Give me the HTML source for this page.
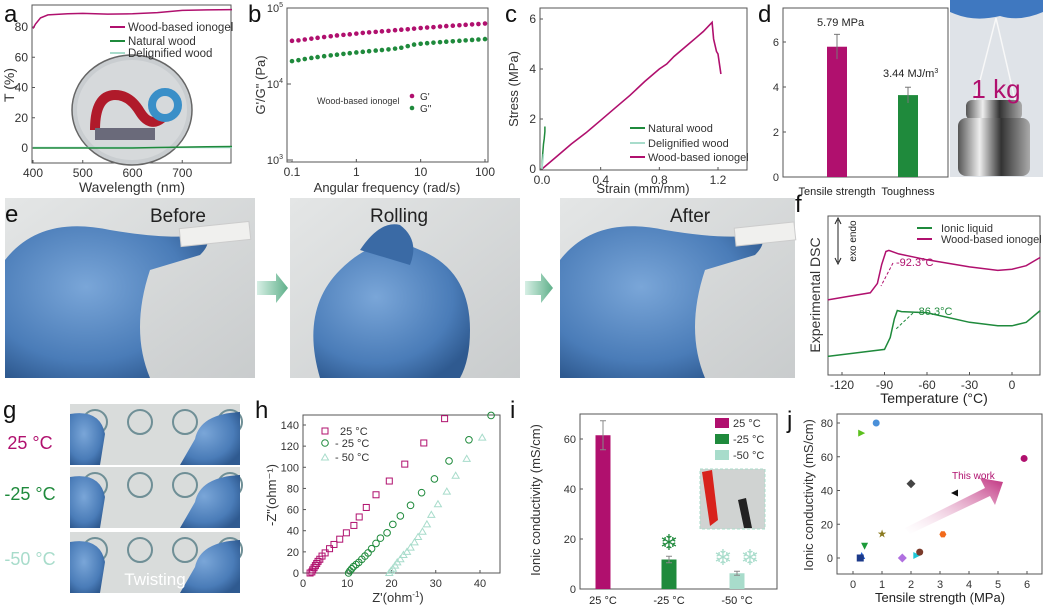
<!DOCTYPE html>
<html><head><meta charset="utf-8">
<style>
html,body{margin:0;padding:0;background:#fff;}
svg{display:block;font-family:"Liberation Sans",sans-serif;}
</style></head>
<body>
<svg id="fig" width="1043" height="610" viewBox="0 0 1043 610" xmlns="http://www.w3.org/2000/svg">
<defs>
<linearGradient id="photoBg" x1="0" y1="0" x2="1" y2="1"><stop offset="0" stop-color="#e4e6e6"/><stop offset="1" stop-color="#c9cccd"/></linearGradient>
<radialGradient id="glove" cx="0.4" cy="0.4" r="0.7"><stop offset="0" stop-color="#7aa6d8"/><stop offset="0.7" stop-color="#4a7cb8"/><stop offset="1" stop-color="#2f5a90"/></radialGradient>
<linearGradient id="arrowG" x1="0" y1="1" x2="1" y2="0"><stop offset="0" stop-color="#ffffff" stop-opacity="0.2"/><stop offset="1" stop-color="#c0307f"/></linearGradient>
<linearGradient id="metal" x1="0" x2="1"><stop offset="0" stop-color="#555"/><stop offset="0.3" stop-color="#eee"/><stop offset="0.6" stop-color="#333"/><stop offset="1" stop-color="#aaa"/></linearGradient>
<linearGradient id="eArrow" x1="0" x2="1"><stop offset="0" stop-color="#d7efe5"/><stop offset="1" stop-color="#5fb08a"/></linearGradient>
</defs>
<g id="root"></g>
</svg>
<script>
// ---------- DATA ----------
var aWave=[400,405,415,430,470,500,550,600,650,700,750,800];
var aIono=[79,82,86,88,88.8,89,88.5,88.7,89.5,91,91.3,91.5];
var aNat=[0,0,0,0,0,0,0,0,0.3,0.6,0.8,1];
var aDel=[0.3,0.3,0.3,0.3,0.3,0.3,0.3,0.3,0.3,0.3,0.3,0.3];
var aYTicks=[0,20,40,60,80];
var aXTicks=[400,500,600,700];

var bFreq=[0.1,0.126,0.158,0.2,0.25,0.316,0.4,0.5,0.63,0.79,1,1.26,1.58,2,2.5,3.16,4,5,6.3,7.9,10,12.6,15.8,20,25,31.6,40,50,63,79,100];
var bGp=[37000,37500,38500,39500,40500,41500,42500,43500,44300,45000,46000,47000,47800,48500,49300,50000,51000,51800,52500,53500,54500,55300,56000,57000,57800,58500,59300,60000,60800,61500,62500];
var bGpp=[20000,20600,21300,22000,22600,23200,23800,24300,24900,25400,26000,26500,27000,27500,28000,28500,29200,30000,31500,33000,33800,34400,35000,35500,36000,36500,37000,37500,38000,38500,39000];
var bXTicks=[0.1,1,10,100];
var bXLabels=["0.1","1","10","100"];
var bYTicks=[3,4,5];

var cStrain=[0,0.1,0.2,0.3,0.4,0.5,0.6,0.7,0.8,0.85,0.9,1.0,1.05,1.1,1.16,1.17,1.19,1.2,1.22];
var cStress=[0,0.5,1.0,1.45,1.95,2.45,2.95,3.5,4.0,4.2,4.5,5.0,5.25,5.5,5.87,5.2,4.7,4.6,3.8];
var cNatX=[0,0.005,0.01,0.015,0.02,0.02];
var cNatY=[0,0.6,1.0,1.2,1.5,1.7];
var cDelX=[0,0.005,0.01];
var cDelY=[0,0.3,0.6];
var cXTicks=[0,0.4,0.8,1.2];
var cXLabels=["0.0","0.4","0.8","1.2"];
var cYTicks=[0,2,4,6];

var dCats=["Tensile strength","Toughness"];
var dVals=[5.79,3.64];
var dErr=[0.55,0.35];
var dYTicks=[0,2,4,6];

var fTemp=[-130,-115,-100,-95,-92,-89,-87,-80,-60,-30,-10,0,10,20];
var fIono=[3.4,3.55,3.7,4.1,4.9,5.45,5.5,5.35,5.1,4.8,4.65,4.7,4.85,5.2];
var fTempIL=[-130,-110,-90,-86,-83,-81,-78,-60,-30,-10,0,10,20];
var fIL=[1.0,1.15,1.3,1.8,2.6,2.95,2.9,2.85,2.45,2.3,2.3,2.45,2.95];
var fXTicks=[-120,-90,-60,-30,0];

var hX25=[1.6,2,2.2,2.5,2.8,3.1,3.4,3.8,4.3,5,6,7,8.3,9.8,11.5,12.7,14.3,16.5,19.5,23,27.3,32];
var hY25=[0,1,3,5,7,9,11,13,16,19,23,27,32,38,45,53,62,74,87,103,123,146];
var hXm25=[10.3,10.6,11,11.4,12,12.6,13.3,14,14.7,15.5,16.5,17.5,19,20.3,22,24.3,26.8,29.7,33,37.5,42.5];
var hYm25=[0,2,4,6,8,10,13,16,19,23,28,33,38,46,54,64,76,89,106,126,149];
var hXm50=[19.5,19.9,20.3,20.8,21.3,22,22.7,23.5,24.3,25.2,26,27,28,29,30.5,32.5,34.5,37,40.5];
var hYm50=[0,2,4,7,10,13,17,20,24,29,34,39,46,55,65,77,92,108,128];
var hXTicks=[0,10,20,30,40];
var hYTicks=[0,20,40,60,80,100,120,140];

var iCats=["25 °C","-25 °C","-50 °C"];
var iVals=[61.5,11.8,6.3];
var iErr=[5.8,1.3,0.8];
var iYTicks=[0,20,40,60];

var jX=[0.8,0.3,2.0,3.5,5.9,1.0,3.1,0.4,0.3,0.25,1.7,2.2,2.3];
var jY=[80,74,44,38.5,59,14.5,14,7,1.5,0,0,1.5,3.5];
var jShape=["circle","tri-r","diamond","tri-l","circle","star","hex","tri-d","tri-u","square","diamond","tri-r","circle"];
var jColor=["#4a90d9","#5cc01e","#444444","#111111","#b0106e","#8a7a20","#f26a1b","#1c9a3a","#1f5fd6","#1c3a8a","#b070e0","#20c8d8","#7a3a2a"];
var jXTicks=[0,1,2,3,4,5,6];
var jYTicks=[0,20,40,60,80];

// ---------- HELPERS ----------
var NS="http://www.w3.org/2000/svg";
var root=document.getElementById('root');
var MAG="#b0106e",GRN="#1f8a3c",LIT="#a8dccb";
function mk(tag,attrs,parent){var e=document.createElementNS(NS,tag);for(var k in attrs)e.setAttribute(k,attrs[k]);(parent||root).appendChild(e);return e;}
function txt(x,y,s,size,fill,anchor,parent){var t=mk('text',{x:x,y:y,'font-size':size,fill:fill||'#333','text-anchor':anchor||'start'},parent);t.textContent=s;return t;}
function lin(d0,d1,r0,r1){return function(v){return r0+(v-d0)/(d1-d0)*(r1-r0);};}
function logS(d0,d1,r0,r1){return function(v){return r0+(Math.log10(v)-d0)/(d1-d0)*(r1-r0);};}
function frame(x0,y0,x1,y1,parent){var r=mk('rect',{x:x0,y:y0,width:x1-x0,height:y1-y0,fill:'none',stroke:'#555','stroke-width':1},parent);}
function path(xs,ys,sx,sy,color,w,parent){var d='';for(var i=0;i<xs.length;i++)d+=(i?'L':'M')+sx(xs[i]).toFixed(1)+','+sy(ys[i]).toFixed(1);return mk('path',{d:d,fill:'none',stroke:color,'stroke-width':w||1.5},parent);}
function group(name){var g=mk('g',{});return g;}
function xticks(vals,labels,sx,yb,size,g){vals.forEach(function(v,i){mk('line',{x1:sx(v),x2:sx(v),y1:yb,y2:yb-3,stroke:'#555'},g);var t=txt(sx(v),yb+14,labels?labels[i]:String(v),size||11,'#333','middle',g);});}
function yticks(vals,labels,sy,xl,size,g){vals.forEach(function(v,i){mk('line',{x1:xl,x2:xl+3,y1:sy(v),y2:sy(v),stroke:'#555'},g);var t=txt(xl-4,sy(v)+4,labels?labels[i]:String(v),size||11,'#333','end',g);});}
function vlabel(x,y,s,size,g){var t=txt(0,0,s,size,'#333','middle',g);t.setAttribute('transform','translate('+x+','+y+') rotate(-90)');return t;}
function letter(x,y,s){var t=txt(x,y,s,24,'#111');}

// ---------- PANEL A ----------
(function(){
var g=group('panel-a');letter(4,22,'a');
var sx=lin(400,800,33,232),sy=lin(0,80,148,27);
frame(32,5,231,163,g);
xticks(aXTicks,null,sx,163,12,g);yticks(aYTicks,null,sy,32,12,g);
txt(132,192,'Wavelength (nm)',14,'#333','middle',g);
vlabel(14,85,'T (%)',14,g);
var c=mk('ellipse',{cx:132,cy:110,rx:60,ry:55,fill:'#c9cdd0',stroke:'#666','stroke-width':1.5},g);
mk('ellipse',{cx:132,cy:110,rx:55,ry:50,fill:'#d6d9db'},g);
mk('path',{d:'M95,130 Q95,95 115,95 Q130,95 140,112 Q150,128 162,118',fill:'none',stroke:'#b01a2a','stroke-width':10},g);
mk('circle',{cx:165,cy:105,r:13,fill:'none',stroke:'#3a8fc8','stroke-width':8},g);
mk('rect',{x:95,y:128,width:60,height:12,fill:'#6a6a7a'},g);
var l1=path(aWave,aDel,sx,sy,LIT,1.5,g);
var l2=path(aWave,aNat,sx,sy,GRN,1.5,g);
var l3=path(aWave,aIono,sx,sy,MAG,1.5,g);
[['Wood-based ionogel',MAG,27],['Natural wood',GRN,41],['Delignified wood',LIT,53]].forEach(function(e){mk('line',{x1:110,x2:125,y1:e[2],y2:e[2],stroke:e[1],'stroke-width':2},g);var t=txt(128,e[2]+4,e[0],11.5,'#333','start',g);});
})();

// ---------- PANEL B ----------
(function(){
var g=group('panel-b');letter(248,22,'b');
var sx=logS(-1,2,292,485),sy=function(v){return 8+(5-v)*76;};
var syv=function(v){return sy(Math.log10(v));};
frame(287,8,488,162,g);
xticks(bXTicks,bXLabels,sx,162,12,g);
bYTicks.forEach(function(v){mk('line',{x1:287,x2:291,y1:sy(v),y2:sy(v),stroke:'#555'},g);var t=txt(283,sy(v)+4,'10',11,'#333','end',g);var s=mk('tspan',{dy:-5,'font-size':7},t);s.textContent=v;});
txt(387,192,'Angular frequency (rad/s)',13,'#333','middle',g);
vlabel(265,85,'G\'/G" (Pa)',13,g);
bFreq.forEach(function(f,i){var p=mk('circle',{cx:sx(f),cy:syv(bGp[i]),r:2.3,fill:MAG},g);
var q=mk('circle',{cx:sx(f),cy:syv(bGpp[i]),r:2.3,fill:GRN},g);});
txt(317,104,'Wood-based ionogel',9,'#333','start',g);
mk('circle',{cx:412,cy:96,r:2.3,fill:MAG},g);txt(420,100,"G'",10,'#333','start',g);
mk('circle',{cx:412,cy:108,r:2.3,fill:GRN},g);txt(420,112,'G"',10,'#333','start',g);
})();

// ---------- PANEL C ----------
(function(){
var g=group('panel-c');letter(505,22,'c');
var sx=lin(0,1.2,542,718),sy=lin(0,6,169,19);
frame(540,8,747,170,g);
xticks(cXTicks,cXLabels,sx,170,12,g);yticks(cYTicks,null,sy,540,12,g);
txt(643,193,'Strain (mm/mm)',13,'#333','middle',g);
vlabel(518,89,'Stress (MPa)',13,g);
var a=path(cStrain,cStress,sx,sy,MAG,1.6,g);
var b=path(cNatX,cNatY,sx,sy,GRN,1.5,g);
var c=path(cDelX,cDelY,sx,sy,LIT,1.5,g);
[['Natural wood',GRN,128],['Delignified wood',LIT,143],['Wood-based ionogel',MAG,157]].forEach(function(e){mk('line',{x1:630,x2:645,y1:e[2],y2:e[2],stroke:e[1],'stroke-width':2},g);var t=txt(648,e[2]+4,e[0],11,'#333','start',g);});
})();

// ---------- PANEL D ----------
(function(){
var g=group('panel-d');letter(758,22,'d');
var sy=lin(0,6,177,42);var cx=[837,908];
frame(783,8,948,177,g);
yticks(dYTicks,null,sy,783,11,g);
dCats.forEach(function(c,i){var b=mk('rect',{x:cx[i]-10,y:sy(dVals[i]),width:20,height:sy(0)-sy(dVals[i]),fill:i?GRN:MAG},g);
mk('line',{x1:cx[i],x2:cx[i],y1:sy(dVals[i]+dErr[i]),y2:sy(dVals[i]-dErr[i]),stroke:'#777'},g);
mk('line',{x1:cx[i]-3,x2:cx[i]+3,y1:sy(dVals[i]+dErr[i]),y2:sy(dVals[i]+dErr[i]),stroke:'#777'},g);
txt(cx[i],195,c,11,'#222','middle',g);});
txt(817,26,'5.79 MPa',11,'#222','start',g);
var t=txt(883,77,'3.44 MJ/m',11,'#222','start',g);var s=mk('tspan',{dy:-4,'font-size':7},t);s.textContent='3';
var ph=mk('rect',{x:950,y:0,width:93,height:177,fill:'#dfe3e8'},g);
mk('path',{d:'M950,0 L1043,0 L1043,12 Q1020,22 1000,16 Q975,22 955,14 L950,12 Z',fill:'#3f78c0'},g);
mk('path',{d:'M996,18 L975,100 M996,18 L1015,100',stroke:'#f8f8f8','stroke-width':1.5,fill:'none'},g);
mk('rect',{x:966,y:100,width:56,height:20,rx:6,fill:'url(#metal)'},g);
mk('rect',{x:958,y:118,width:72,height:58,rx:8,fill:'url(#metal)'},g);
txt(996,98,'1 kg',26,MAG,'middle',g);
})();

// ---------- PANEL E ----------
(function(){
var g=group('panel-e');letter(5,222,'e');
var boxes=[[5,198,250,180,'Before'],[290,198,230,180,'Rolling'],[560,198,235,180,'After']];
boxes.forEach(function(b,i){var r=mk('rect',{x:b[0],y:b[1],width:b[2],height:b[3],fill:'url(#photoBg)'},g);});
mk('path',{d:'M5,260 Q40,215 110,230 Q170,240 200,235 Q215,240 200,255 L150,270 Q130,330 150,378 L5,378 Z',fill:'url(#glove)'},g);
mk('rect',{x:180,y:225,width:70,height:18,fill:'#f0f0ee',stroke:'#ccc','transform':'rotate(-6 215 234)'},g);
mk('path',{d:'M320,378 Q300,310 340,270 Q380,230 420,250 Q470,270 470,330 Q470,360 460,378 Z',fill:'url(#glove)'},g);
mk('path',{d:'M360,250 Q380,220 400,225 Q420,240 410,265 Z',fill:'#3a6aa5'},g);
mk('path',{d:'M560,260 Q595,215 665,230 Q725,240 755,235 Q770,240 755,255 L705,270 Q685,330 705,378 L560,378 Z',fill:'url(#glove)'},g);
mk('rect',{x:735,y:225,width:60,height:18,fill:'#f0f0ee',stroke:'#ccc','transform':'rotate(-6 765 234)'},g);
txt(150,222,'Before',19,'#222','start',g);txt(370,222,'Rolling',19,'#222','start',g);txt(670,222,'After',19,'#222','start',g);
[[257,288],[525,553]].forEach(function(a){var p=mk('path',{d:'M'+a[0]+',281 L'+(a[1]-12)+',281 L'+(a[1]-12)+',273 L'+a[1]+',288 L'+(a[1]-12)+',303 L'+(a[1]-12)+',295 L'+a[0]+',295 Z',fill:'url(#eArrow)'},g);});
})();

// ---------- PANEL F ----------
(function(){
var g=group('panel-f');letter(795,212,'f');
var sx=lin(-120,0,842,1012),sy=lin(0,7,380,215);
frame(828,216,1040,375,g);
xticks(fXTicks,null,sx,375,12,g);
txt(934,403,'Temperature (°C)',14,'#222','middle',g);
vlabel(820,295,'Experimental DSC',14,g);
var a=path(fTemp,fIono,sx,sy,MAG,1.5,g);
var b=path(fTempIL,fIL,sx,sy,GRN,1.5,g);
mk('line',{x1:838,x2:838,y1:220,y2:262,stroke:'#222'},g);
mk('path',{d:'M835,224 L838,218 L841,224 M835,258 L838,264 L841,258',fill:'none',stroke:'#222'},g);
var t=txt(0,0,'exo  endo',10,'#222','middle',g);t.setAttribute('transform','translate(856,241) rotate(-90)');
mk('line',{x1:917,x2:932,y1:228,y2:228,stroke:GRN,'stroke-width':2},g);txt(941,232,'Ionic liquid',11,'#333','start',g);
mk('line',{x1:917,x2:932,y1:239,y2:239,stroke:MAG,'stroke-width':2},g);txt(941,243,'Wood-based ionogel',11,'#333','start',g);
txt(896,266,'-92.3°C',11,MAG,'start',g);
mk('line',{x1:893,x2:881,y1:263,y2:286,stroke:MAG,'stroke-dasharray':'3,2'},g);
txt(915,315,'-86.3°C',11,GRN,'start',g);
mk('line',{x1:913,x2:896,y1:313,y2:329,stroke:GRN,'stroke-dasharray':'3,2'},g);
})();

// ---------- PANEL G ----------
(function(){
var g=group('panel-g');letter(3,418,'g');
txt(30,449,'25 °C',18,MAG,'middle',g);txt(30,500,'-25 °C',18,GRN,'middle',g);txt(30,565,'-50 °C',18,LIT,'middle',g);
[[404,61],[467,61],[532,61]].forEach(function(r,i){var p=mk('rect',{x:70,y:r[0],width:170,height:r[1],fill:'#d9dcdb'},g);
for(var k=0;k<4;k++){mk('circle',{cx:95+k*45,cy:r[0]+18,r:12,fill:'none',stroke:'#6f8f96','stroke-width':2},g);}
mk('path',{d:'M70,'+(r[0]+10)+' Q100,'+(r[0]+5)+' 105,'+(r[0]+30)+' L100,'+(r[0]+r[1])+' L70,'+(r[0]+r[1])+' Z',fill:'url(#glove)'},g);
mk('path',{d:'M240,'+(r[0]+8)+' Q200,'+(r[0]+10)+' 195,'+(r[0]+35)+' L180,'+(r[0]+r[1])+' L240,'+(r[0]+r[1])+' Z',fill:'url(#glove)'},g);});
txt(155,585,'Twisting',17,'#ffffff','middle',g);
})();

// ---------- PANEL H ----------
(function(){
var g=group('panel-h');letter(255,418,'h');
var sx=lin(0,40,303,480),sy=lin(0,140,573,425);
frame(303,415,500,573,g);
xticks(hXTicks,null,sx,573,11,g);yticks(hYTicks,null,sy,303,11,g);
var xl=txt(398,602,'Z\'(ohm',13,'#333','middle',g);var s1=mk('tspan',{dy:-5,'font-size':8},xl);s1.textContent='-1';var s2=mk('tspan',{dy:5},xl);s2.textContent=')';
vlabel(276,495,'-Z"(ohm⁻¹)',13,g);
hX25.forEach(function(x,i){var p=mk('rect',{x:sx(x)-3,y:sy(hY25[i])-3,width:6,height:6,fill:'none',stroke:MAG,'stroke-width':1},g);});
hXm25.forEach(function(x,i){var p=mk('circle',{cx:sx(x),cy:sy(hYm25[i]),r:3.3,fill:'none',stroke:GRN,'stroke-width':1},g);});
hXm50.forEach(function(x,i){var cx=sx(x),cy=sy(hYm50[i]);var p=mk('path',{d:'M'+cx+','+(cy-3.5)+' L'+(cx+3.5)+','+(cy+2.5)+' L'+(cx-3.5)+','+(cy+2.5)+' Z',fill:'none',stroke:LIT,'stroke-width':1},g);});
mk('rect',{x:322,y:428,width:6,height:6,fill:'none',stroke:MAG},g);txt(340,435,'25 °C',11,'#333','start',g);
mk('circle',{cx:325,cy:443,r:3.3,fill:'none',stroke:GRN},g);txt(335,447,'- 25 °C',11,'#333','start',g);
mk('path',{d:'M325,454 L328.5,460 L321.5,460 Z',fill:'none',stroke:LIT},g);txt(335,461,'- 50 °C',11,'#333','start',g);
})();

// ---------- PANEL I ----------
(function(){
var g=group('panel-i');letter(510,418,'i');
var sy=lin(0,60,589,439);var cx=[603,669,737];var cols=[MAG,GRN,LIT];
frame(580,414,777,589,g);
yticks(iYTicks,null,sy,580,11,g);
vlabel(540,500,'Ionic conductivity (mS/cm)',13,g);
iCats.forEach(function(c,i){var b=mk('rect',{x:cx[i]-7.5,y:sy(iVals[i]),width:15,height:sy(0)-sy(iVals[i]),fill:cols[i]},g);
mk('line',{x1:cx[i],x2:cx[i],y1:sy(iVals[i]+iErr[i]),y2:sy(iVals[i]-iErr[i]),stroke:'#888'},g);
mk('line',{x1:cx[i]-3,x2:cx[i]+3,y1:sy(iVals[i]+iErr[i]),y2:sy(iVals[i]+iErr[i]),stroke:'#888'},g);
mk('line',{x1:cx[i]-3,x2:cx[i]+3,y1:sy(iVals[i]-iErr[i]),y2:sy(iVals[i]-iErr[i]),stroke:'#888'},g);
txt(cx[i],604,c,11,'#222','middle',g);});
[['25 °C',MAG,423],['-25 °C',GRN,439],['-50 °C',LIT,455]].forEach(function(e){mk('rect',{x:715,y:e[2]-5,width:14,height:10,fill:e[1]},g);var t=txt(733,e[2]+4,e[0],11,'#333','start',g);});
var ins=mk('rect',{x:700,y:469,width:65,height:60,fill:'#d0d3d2',stroke:'#a8dccb','stroke-dasharray':'3,2'},g);
mk('path',{d:'M702,472 L712,470 L718,520 L710,526 Z',fill:'#d8221c'},g);
mk('path',{d:'M738,500 L746,498 L752,528 L744,528 Z',fill:'#222'},g);
txt(669,550,'❄',22,GRN,'middle',g);txt(723,565,'❄',22,LIT,'middle',g);txt(750,565,'❄',22,LIT,'middle',g);
})();

// ---------- PANEL J ----------
(function(){
var g=group('panel-j');letter(787,428,'j');
var sx=lin(0,6,853,1027),sy=lin(0,80,558,423);
frame(837,414,1042,574,g);
xticks(jXTicks,null,sx,574,11,g);yticks(jYTicks,null,sy,837,11,g);
txt(940,602,'Tensile strength (MPa)',13,'#222','middle',g);
vlabel(813,495,'Ionic conductivity (mS/cm)',13,g);
var ar=mk('path',{d:'M905,528 L985,488 L980,478 L1003,482 L995,505 L990,496 L910,534 Z',fill:'url(#arrowG)'},g);
txt(952,479,'This work',10,MAG,'start',g);
jX.forEach(function(x,i){var cx=sx(x),cy=sy(jY[i]),c=jColor[i],r=3.5,p,d;
switch(jShape[i]){
case 'circle':p=mk('circle',{cx:cx,cy:cy,r:r,fill:c},g);break;
case 'square':p=mk('rect',{x:cx-r,y:cy-r,width:2*r,height:2*r,fill:c},g);break;
case 'diamond':d='M'+cx+','+(cy-r-1)+'L'+(cx+r+1)+','+cy+'L'+cx+','+(cy+r+1)+'L'+(cx-r-1)+','+cy+'Z';p=mk('path',{d:d,fill:c},g);break;
case 'tri-r':d='M'+(cx-r)+','+(cy-r)+'L'+(cx+r)+','+cy+'L'+(cx-r)+','+(cy+r)+'Z';p=mk('path',{d:d,fill:c},g);break;
case 'tri-l':d='M'+(cx+r)+','+(cy-r)+'L'+(cx-r)+','+cy+'L'+(cx+r)+','+(cy+r)+'Z';p=mk('path',{d:d,fill:c},g);break;
case 'tri-u':d='M'+cx+','+(cy-r)+'L'+(cx+r)+','+(cy+r)+'L'+(cx-r)+','+(cy+r)+'Z';p=mk('path',{d:d,fill:c},g);break;
case 'tri-d':d='M'+cx+','+(cy+r)+'L'+(cx+r)+','+(cy-r)+'L'+(cx-r)+','+(cy-r)+'Z';p=mk('path',{d:d,fill:c},g);break;
case 'hex':d='';for(var k=0;k<6;k++){var a=Math.PI/3*k;d+=(k?'L':'M')+(cx+r*Math.cos(a)).toFixed(1)+','+(cy+r*Math.sin(a)).toFixed(1);}p=mk('path',{d:d+'Z',fill:c},g);break;
case 'star':p=txt(cx,cy+4,'★',11,c,'middle',g);break;}

});
})();
</script>
</body></html>
